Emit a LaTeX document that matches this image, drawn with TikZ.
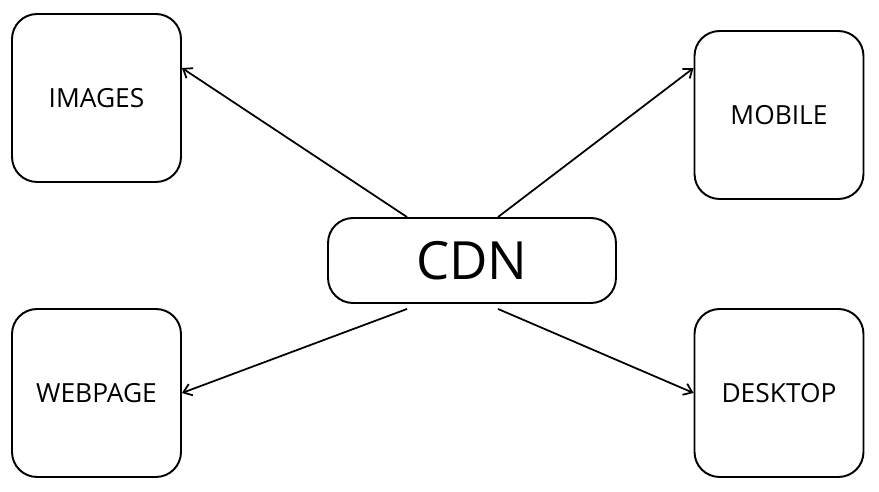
\documentclass[tikz,border=0pt]{standalone}
\usepackage{fontspec}
\setmainfont{Open Sans}
\usetikzlibrary{arrows.meta}

\tikzset{
  devbox/.style={draw, line width=1.1pt, rounded corners=0.5cm, minimum width=3.38cm, minimum height=3.36cm, font=\fontsize{15}{17}\selectfont},
  cdnbox/.style={draw, line width=1.1pt, rounded corners=0.5cm, minimum width=5.76cm, minimum height=1.7cm, font=\fontsize{30}{34}\selectfont},
  link/.style={line width=1pt, -{Straight Barb[length=1.6mm, width=2.4mm]}}
}

\begin{document}
\begin{tikzpicture}[x=0.02cm,y=-0.02cm]
\useasboundingbox (0,0) rectangle (879,492);
\node[cdnbox] (cdn) at (472,260.5) {CDN};
\node[devbox] (images) at (96.5,98) {IMAGES};
\node[devbox] (mobile) at (779,115) {MOBILE};
\node[devbox] (webpage) at (96.5,393) {WEBPAGE};
\node[devbox] (desktop) at (779,393) {DESKTOP};
\draw[link] ([xshift=-1.3cm]cdn.north) -- ([yshift=0.6cm]images.east);
\draw[link] ([xshift=0.52cm]cdn.north) -- ([yshift=0.94cm]mobile.west);
\draw[link] ([xshift=-1.3cm,yshift=-0.1cm]cdn.south) -- (webpage.east);
\draw[link] ([xshift=0.52cm,yshift=-0.1cm]cdn.south) -- (desktop.west);
\end{tikzpicture}
\end{document}
